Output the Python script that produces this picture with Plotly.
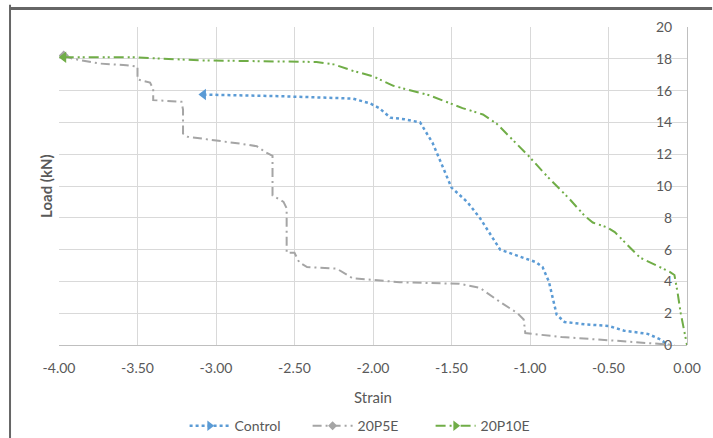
import plotly.graph_objects as go

# ---- data (ordered from the arrow end to the origin) ----
control_x = [-3.08, -2.60, -2.13, -2.02, -1.96, -1.89, -1.80, -1.70, -1.62, -1.55, -1.50, -1.40,
             -1.32, -1.19, -1.05, -0.96, -0.92, -0.88, -0.83, -0.78, -0.65, -0.50, -0.40, -0.25,
             -0.17, -0.12]
control_y = [15.75, 15.65, 15.5, 15.2, 14.9, 14.3, 14.2, 14.0, 12.7, 11.0, 9.9, 9.0,
             8.0, 6.0, 5.5, 5.2, 4.9, 4.0, 1.9, 1.45, 1.3, 1.2, 0.9, 0.7,
             0.35, 0.0]

p5e_x = [-3.97, -3.91, -3.74, -3.57, -3.50, -3.50, -3.42, -3.40, -3.40, -3.22, -3.21, -3.21,
         -3.18, -3.02, -2.80, -2.74, -2.68, -2.64, -2.64, -2.57, -2.55, -2.55, -2.50, -2.47,
         -2.42, -2.23, -2.13, -1.83, -1.45, -1.32, -1.19, -1.08, -1.04, -1.03, -0.80, -0.50,
         -0.25, -0.08]
p5e_y = [18.2, 18.0, 17.7, 17.6, 17.5, 16.7, 16.5, 16.1, 15.4, 15.3, 14.8, 13.3,
         13.1, 12.9, 12.6, 12.5, 12.1, 11.9, 9.4, 9.0, 8.6, 5.8, 5.8, 5.2,
         4.9, 4.8, 4.2, 3.95, 3.85, 3.6, 2.7, 2.0, 1.6, 0.75, 0.5, 0.3,
         0.12, 0.0]

p10e_x = [-3.97, -3.53, -3.10, -2.60, -2.36, -2.25, -2.13, -2.00, -1.87, -1.64, -1.51, -1.43,
          -1.30, -1.21, -1.01, -0.89, -0.75, -0.65, -0.60, -0.51, -0.46, -0.30, -0.11, -0.08,
          -0.06, -0.04, 0.0]
p10e_y = [18.1, 18.1, 17.9, 17.85, 17.8, 17.65, 17.25, 16.9, 16.3, 15.7, 15.2, 14.9,
          14.5, 13.9, 11.9, 10.6, 9.2, 8.1, 7.7, 7.4, 7.1, 5.5, 4.6, 4.4,
          3.3, 2.0, 0.0]

x_tickvals = [-4.0, -3.5, -3.0, -2.5, -2.0, -1.5, -1.0, -0.5, 0.0]
x_ticktext = ["-4.00", "-3.50", "-3.00", "-2.50", "-2.00", "-1.50", "-1.00", "-0.50", "0.00"]
y_tickvals = [0, 2, 4, 6, 8, 10, 12, 14, 16, 18, 20]

series = [
    ("Control", control_x, control_y, "#5B9BD5", "dot", 2.5, "triangle-left", "triangle-right"),
    ("20P5E", p5e_x, p5e_y, "#A5A5A5", "9px,4px,2px,4px", 2, "diamond", "diamond"),
    ("20P10E", p10e_x, p10e_y, "#70AD47", "10px,4px,2px,3px,2px,4px", 2, "triangle-left", "triangle-right"),
]

FONT = "Lato, 'Open Sans', sans-serif"
GREY = "#595959"

fig = go.Figure()
for name, xs, ys, col, dash, w, sym, legsym in series:
    fig.add_trace(go.Scatter(x=xs, y=ys, mode="lines", line=dict(color=col, dash=dash, width=w),
                             showlegend=False, hoverinfo="skip"))
    fig.add_trace(go.Scatter(x=xs[:1], y=ys[:1], mode="markers",
                             marker=dict(symbol=sym, size=10 if sym != "diamond" else 8, color=col),
                             showlegend=False, hoverinfo="skip"))
    fig.add_trace(go.Scatter(x=[None], y=[None], mode="lines+markers", name=name,
                             line=dict(color=col, dash=dash, width=w),
                             marker=dict(symbol=legsym, size=9 if sym != "diamond" else 7, color=col)))

fig.update_layout(
    width=713, height=438,
    margin=dict(l=59, r=26, t=27, b=93, autoexpand=False),
    paper_bgcolor="white", plot_bgcolor="white",
    font=dict(family=FONT, color=GREY, size=13),
    showlegend=True,
    legend=dict(orientation="h", x=0.20, xanchor="left", y=-0.255, yanchor="middle",
                font=dict(size=14, color=GREY), itemwidth=40, entrywidth=68, tracegroupgap=0),
    xaxis=dict(range=[-4, 0], tickvals=x_tickvals, ticktext=x_ticktext,
               showgrid=True, gridcolor="#D9D9D9", gridwidth=1, zeroline=False,
               showline=True, linecolor="#BFBFBF", linewidth=1, ticks="",
               ticklabelstandoff=10, automargin=False,
               tickfont=dict(size=14, color=GREY)),
    yaxis=dict(range=[0, 20], tickvals=y_tickvals, side="left", anchor="free", position=1,
               ticklabelstandoff=12, automargin=False,
               showgrid=True, gridcolor="#D9D9D9", gridwidth=1, zeroline=False,
               showline=True, linecolor="#BFBFBF", linewidth=1, ticks="",
               tickfont=dict(size=14, color=GREY)),
    annotations=[
        dict(text="<b>Load (kN)</b>", textangle=-90, x=-0.0207, y=0.5, xref="paper", yref="paper",
             xanchor="center", yanchor="middle",
             showarrow=False, font=dict(size=15, color=GREY)),
        dict(text="Strain", x=0.5, y=-0.164, xref="paper", yref="paper",
             xanchor="center", yanchor="middle",
             showarrow=False, font=dict(size=15, color=GREY)),
    ],
    shapes=[
        dict(type="line", xref="paper", yref="paper", x0=-0.078, x1=1.04, y0=1.058, y1=1.058,
             line=dict(color="#666666", width=3), layer="above"),
        dict(type="line", xref="paper", yref="paper", x0=-0.078, x1=-0.078, y0=1.07, y1=-0.35,
             line=dict(color="#666666", width=2), layer="above"),
    ],
)

fig.write_html("out.html",
               config={"displayModeBar": False},
               post_script="document.body.style.margin='0';document.body.style.overflow='hidden';")
